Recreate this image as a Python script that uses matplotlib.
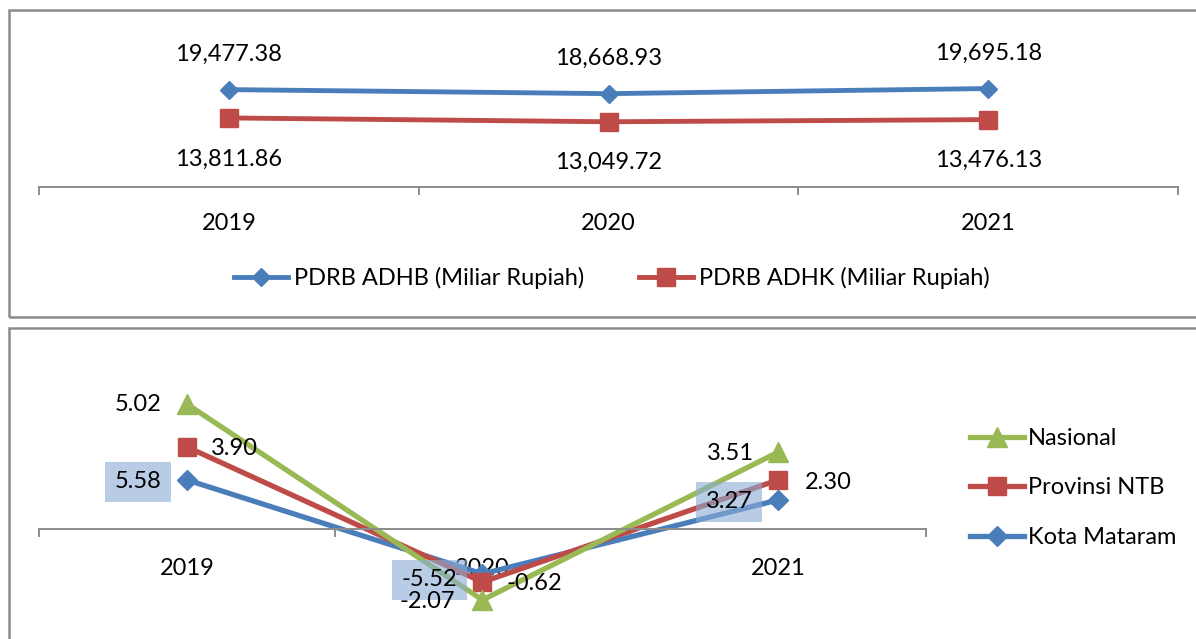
import matplotlib.pyplot as plt
import matplotlib.patches as mpatches

# ── Data ─────────────────────────────────────────────────────────────────────
years = ['2019', '2020', '2021']

adhb = [19477.38, 18668.93, 19695.18]
adhk = [13811.86, 13049.72, 13476.13]

# growth chart: plotted positions as drawn, printed labels as shown
nasional     = [5.02, -2.88, 3.08]
provinsi_ntb = [3.29, -2.16, 1.96]
kota_mataram = [1.96, -1.83, 1.15]
lbl_nasional = ['5.02', '-2.07', '3.51']
lbl_ntb      = ['3.90', '-0.62', '2.30']
lbl_mataram  = ['5.58', '-5.52', '3.27']

# ── Style ────────────────────────────────────────────────────────────────────
BLUE  = '#4A7EBB'
RED   = '#BE4B48'
GREEN = '#98B954'
AXIS  = '#8C8C8C'
FRAME = '#8A8A8A'
BOX   = '#8AACD4'
FS    = 17

plt.rcParams.update({
    'font.family': ['Lato', 'DejaVu Sans'],
    'font.size': FS,
    'text.color': 'black',
})

W, H = 1196, 639
fig = plt.figure(figsize=(W / 100, H / 100), dpi=100)


def px_axes(x0, y_top, x1, y_bot):
    return fig.add_axes([x0 / W, 1 - y_bot / H, (x1 - x0) / W, (y_bot - y_top) / H])


def frame(x0, y0, x1, y1):
    r = mpatches.Rectangle((x0 / W, 1 - y1 / H), (x1 - x0) / W, (y1 - y0) / H,
                           transform=fig.transFigure, fill=False,
                           edgecolor=FRAME, linewidth=1.8)
    fig.patches.append(r)


def style_axis(ax, n):
    for s in ['top', 'right', 'left']:
        ax.spines[s].set_visible(False)
    ax.spines['bottom'].set_color(AXIS)
    ax.spines['bottom'].set_linewidth(1.4)
    ax.spines['bottom'].set_position(('data', 0))
    ax.set_yticks([])
    ax.set_xlim(-0.5, n - 0.5)
    ax.set_xticks(range(n))
    ax.set_xticklabels(years, fontsize=FS)
    ax.set_xticks([i - 0.5 for i in range(n + 1)], minor=True)
    ax.tick_params(axis='x', which='major', length=0)
    ax.tick_params(axis='x', which='minor', length=6, width=1.4, color=AXIS,
                   direction='out')
    ax.patch.set_alpha(0)


# ── Top panel: PDRB ──────────────────────────────────────────────────────────
frame(9, 10, 1200, 317)
ax1 = px_axes(39, 17, 1178, 187)
x = range(len(years))
ax1.plot(x, adhb, '-D', color=BLUE, lw=3.5, ms=9, clip_on=False, zorder=3,
         label='PDRB ADHB (Miliar Rupiah)')
ax1.plot(x, adhk, '-s', color=RED, lw=3.5, ms=13, clip_on=False, zorder=3,
         label='PDRB ADHK (Miliar Rupiah)')
ax1.set_ylim(0, 34000)
style_axis(ax1, len(years))
ax1.tick_params(axis='x', which='major', pad=19)

for i, v in enumerate(adhb):
    ax1.annotate(f'{v:,.2f}', (i, v), xytext=(0, 35), textcoords='offset pixels',
                 ha='center', va='center', fontsize=FS)
for i, v in enumerate(adhk):
    ax1.annotate(f'{v:,.2f}', (i, v), xytext=(0, -41), textcoords='offset pixels',
                 ha='center', va='center', fontsize=FS)

fig.legend(handles=ax1.get_lines(), loc='center',
           bbox_to_anchor=(612 / W, 1 - 278 / H), ncol=2, frameon=False,
           fontsize=FS, handlelength=2.3, handletextpad=0.25,
           columnspacing=2.3, borderpad=0)

# ── Bottom panel: growth ─────────────────────────────────────────────────────
frame(9, 328, 1200, 660)
ax2 = px_axes(39, 340, 926, 620)
series = [
    (kota_mataram, lbl_mataram, BLUE, 'D', 10, 'Kota Mataram'),
    (provinsi_ntb, lbl_ntb, RED, 's', 13, 'Provinsi NTB'),
    (nasional, lbl_nasional, GREEN, '^', 14, 'Nasional'),
]
handles = []
for vals, _, col, mk, ms, name in series:
    h, = ax2.plot(x, vals, '-', marker=mk, color=col, lw=3.8, ms=ms,
                  clip_on=False, label=name)
    handles.append(h)
ax2.set_ylim(-(620 - 528.5) / 24.8, (528.5 - 340) / 24.8)
style_axis(ax2, len(years))
ax2.tick_params(axis='x', which='major', pad=21)

# label offsets in pixels (dx, dy) relative to each point
offsets = {
    'Nasional':     [(-49, 0), (-55, -2), (-48, -1)],
    'Provinsi NTB': [(48, -2), (52, -1), (50, -3)],
    'Kota Mataram': [(-49, -2), (-53, -6), (-49, -2)],
}
for vals, lbls, col, mk, ms, name in series:
    for i, (v, t) in enumerate(zip(vals, lbls)):
        dx, dy = offsets[name][i]
        kw = {}
        if name == 'Kota Mataram':
            kw['bbox'] = dict(boxstyle='square,pad=0.4', facecolor=BOX,
                              edgecolor='none', alpha=0.6)
        ax2.annotate(t, (i, v), xytext=(dx, dy), textcoords='offset pixels',
                     ha='center', va='center', fontsize=FS, zorder=5, **kw)

fig.legend(handles=handles[::-1], loc='center left',
           bbox_to_anchor=(958 / W, 1 - 488 / H), frameon=False,
           fontsize=FS, handlelength=2.3, handletextpad=0.15,
           labelspacing=1.2, borderpad=0)

fig.savefig('out.png', dpi=100, facecolor='white')
